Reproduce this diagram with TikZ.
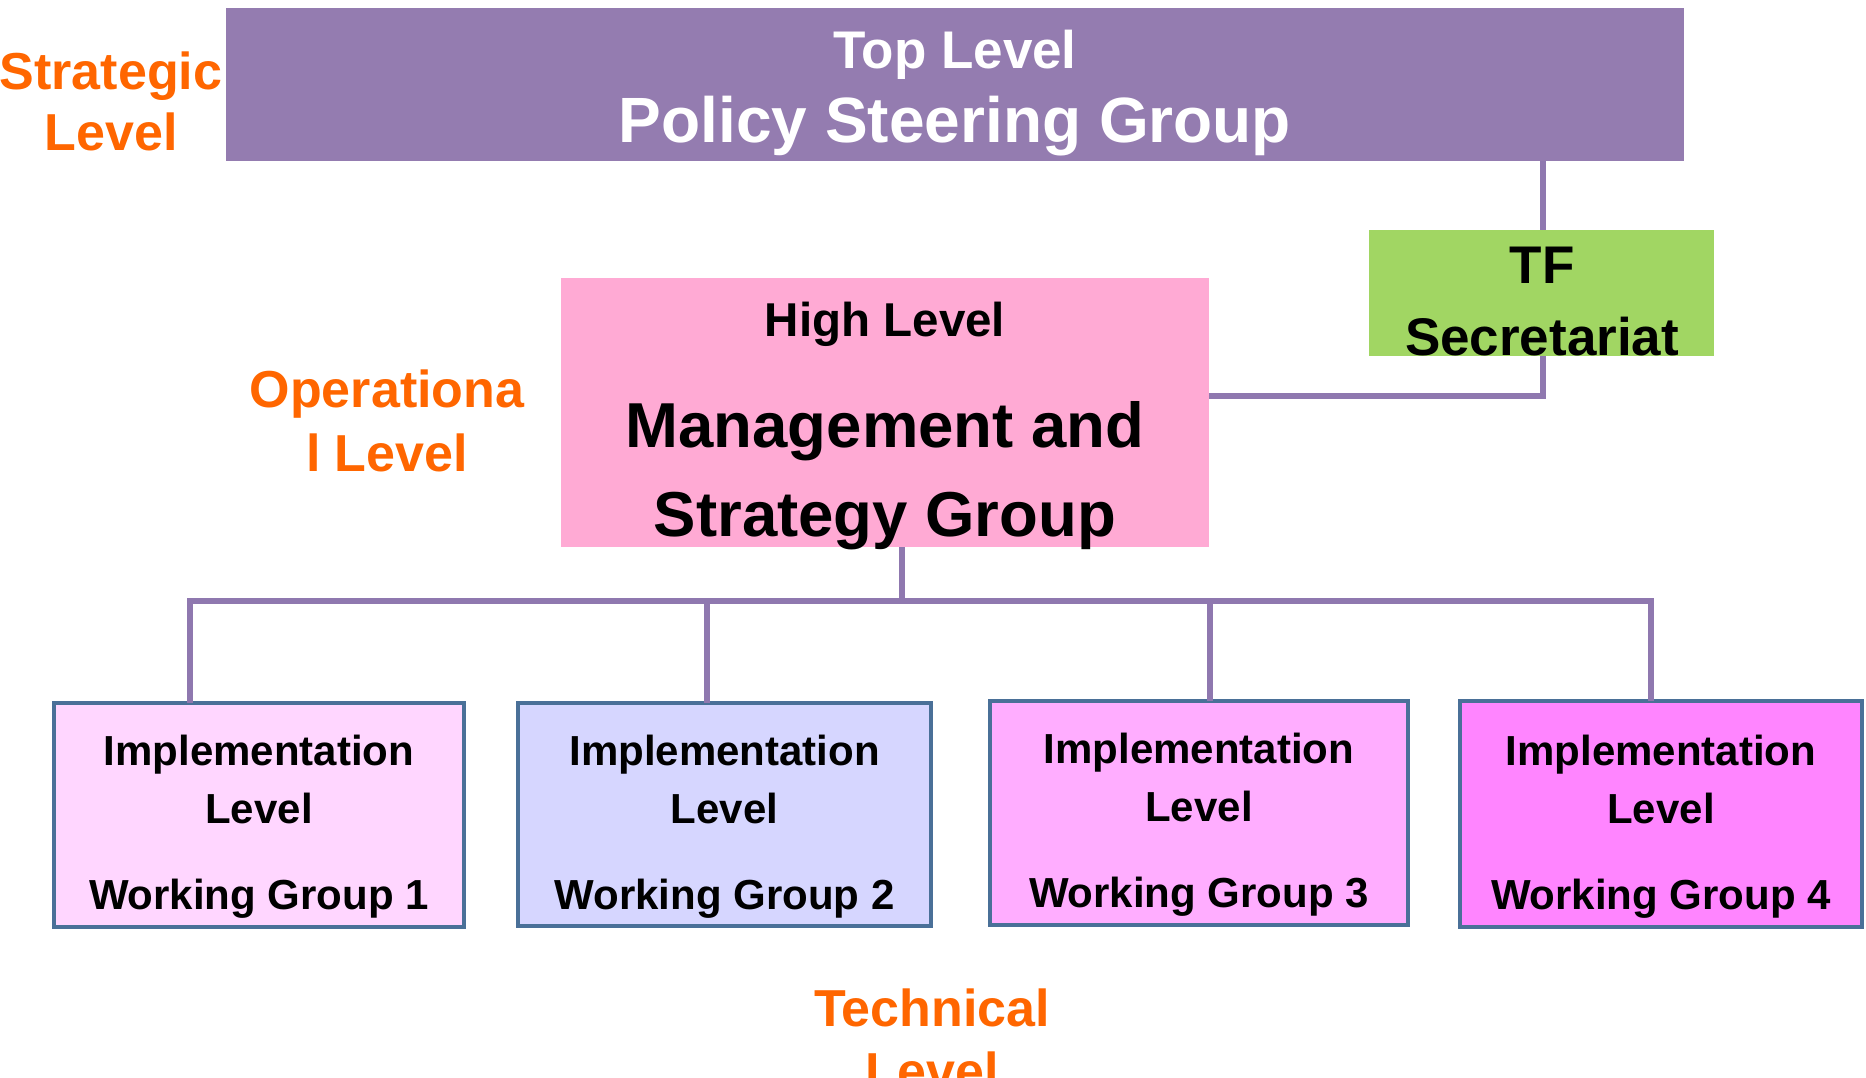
\documentclass[tikz,border=0pt]{standalone}
\usepackage{fontspec}
\setmainfont{Liberation Sans}
\definecolor{psgfill}{HTML}{947CB0}
\definecolor{connc}{HTML}{8F78AF}
\definecolor{lvlorange}{HTML}{FF6600}
\definecolor{tfgreen}{HTML}{A1D663}
\definecolor{msgpink}{HTML}{FFAAD4}
\definecolor{wgborder}{HTML}{4A7098}
\definecolor{wgA}{HTML}{FFD6FF}
\definecolor{wgB}{HTML}{D6D6FF}
\definecolor{wgC}{HTML}{FFADFF}
\definecolor{wgD}{HTML}{FF85FF}
\begin{document}
\begin{tikzpicture}[x=1pt,y=-1pt,
  flatbox/.style={draw=none, inner sep=0pt, outer sep=0pt},
  wgbox/.style={draw=wgborder, line width=4pt, inner sep=0pt, outer sep=0pt},
  conn/.style={draw=connc, line width=5.5pt},
  txt/.style={inner sep=0pt, anchor=base, font=\bfseries},
  wgtxt/.style={txt, font=\bfseries\fontsize{42}{50}\selectfont},
  lvl/.style={txt, text=lvlorange, font=\bfseries\fontsize{52}{60}\selectfont}
]
\useasboundingbox (0,0) rectangle (1866,1078);

% connector corner points
\coordinate (tfbend) at (1543,396);
\coordinate (bus) at (902,601);
\coordinate (d1) at (190,703);
\coordinate (d2) at (707,703);
\coordinate (d3) at (1210,701);
\coordinate (d4) at (1651,701);

% boxes
\node[flatbox, fill=psgfill, minimum width=1458pt, minimum height=153pt] (psg) at (955,84.5) {};
\node[flatbox, fill=tfgreen, minimum width=345pt, minimum height=126pt] (tf) at (1541.5,293) {};
\node[flatbox, fill=msgpink, minimum width=648pt, minimum height=269pt] (msg) at (885,412.5) {};
\node[wgbox, fill=wgA, minimum width=410pt, minimum height=224pt] (wg1) at (259,815) {};
\node[wgbox, fill=wgB, minimum width=413pt, minimum height=223pt] (wg2) at (724.5,814.5) {};
\node[wgbox, fill=wgC, minimum width=418pt, minimum height=224pt] (wg3) at (1199,813) {};
\node[wgbox, fill=wgD, minimum width=402pt, minimum height=226pt] (wg4) at (1661,814) {};

% connectors
\draw[conn] (tf.north -| tfbend) -- (tfbend |- psg.south);
\draw[conn] (tf.south -| tfbend) -- (tfbend) -- (tfbend -| msg.east);
\draw[conn] (bus |- msg.south) -- (bus);
\draw[conn, line join=miter] (d1) -- (d1 |- bus) -- (d4 |- bus) -- (d4);
\draw[conn] (d2 |- bus) -- (d2);
\draw[conn] (d3 |- bus) -- (d3);

% texts
\node[txt, text=white, font=\bfseries\fontsize{53}{60}\selectfont] (t1) at (955,69) {Top Level};
\node[txt, text=white, font=\bfseries\fontsize{64}{70}\selectfont] (t2) at (955,143) {Policy Steering Group};

\node[lvl] (s1) at (111,90) {Strategic};
\node[lvl] (s2) at (111,151) {Level};
\node[lvl] (o1) at (387,407) {Operationa};
\node[lvl] (o2) at (387,471) {l Level};
\node[lvl] (tc1) at (932,1026) {Technical};
\node[lvl] (tc2) at (932,1089) {Level};

\node[txt, font=\bfseries\fontsize{53}{60}\selectfont] (tf1) at (1542,283) {TF};
\node[txt, font=\bfseries\fontsize{53}{60}\selectfont] (tf2) at (1542,355) {Secretariat};

\node[txt, font=\bfseries\fontsize{47.5}{55}\selectfont] (m1) at (885,336) {High Level};
\node[txt, font=\bfseries\fontsize{63.5}{70}\selectfont] (m2) at (885,447) {Management and};
\node[txt, font=\bfseries\fontsize{63.5}{70}\selectfont] (m3) at (885,536) {Strategy Group};

\node[wgtxt] (wg1a) at (259,765) {Implementation};
\node[wgtxt] (wg1b) at (259,823) {Level};
\node[wgtxt] (wg1c) at (259,909) {Working Group 1};
\node[wgtxt] (wg2a) at (724.5,765) {Implementation};
\node[wgtxt] (wg2b) at (724.5,823) {Level};
\node[wgtxt] (wg2c) at (724.5,909) {Working Group 2};
\node[wgtxt] (wg3a) at (1199,763) {Implementation};
\node[wgtxt] (wg3b) at (1199,821) {Level};
\node[wgtxt] (wg3c) at (1199,907) {Working Group 3};
\node[wgtxt] (wg4a) at (1661,765) {Implementation};
\node[wgtxt] (wg4b) at (1661,823) {Level};
\node[wgtxt] (wg4c) at (1661,909) {Working Group 4};
\end{tikzpicture}
\end{document}
